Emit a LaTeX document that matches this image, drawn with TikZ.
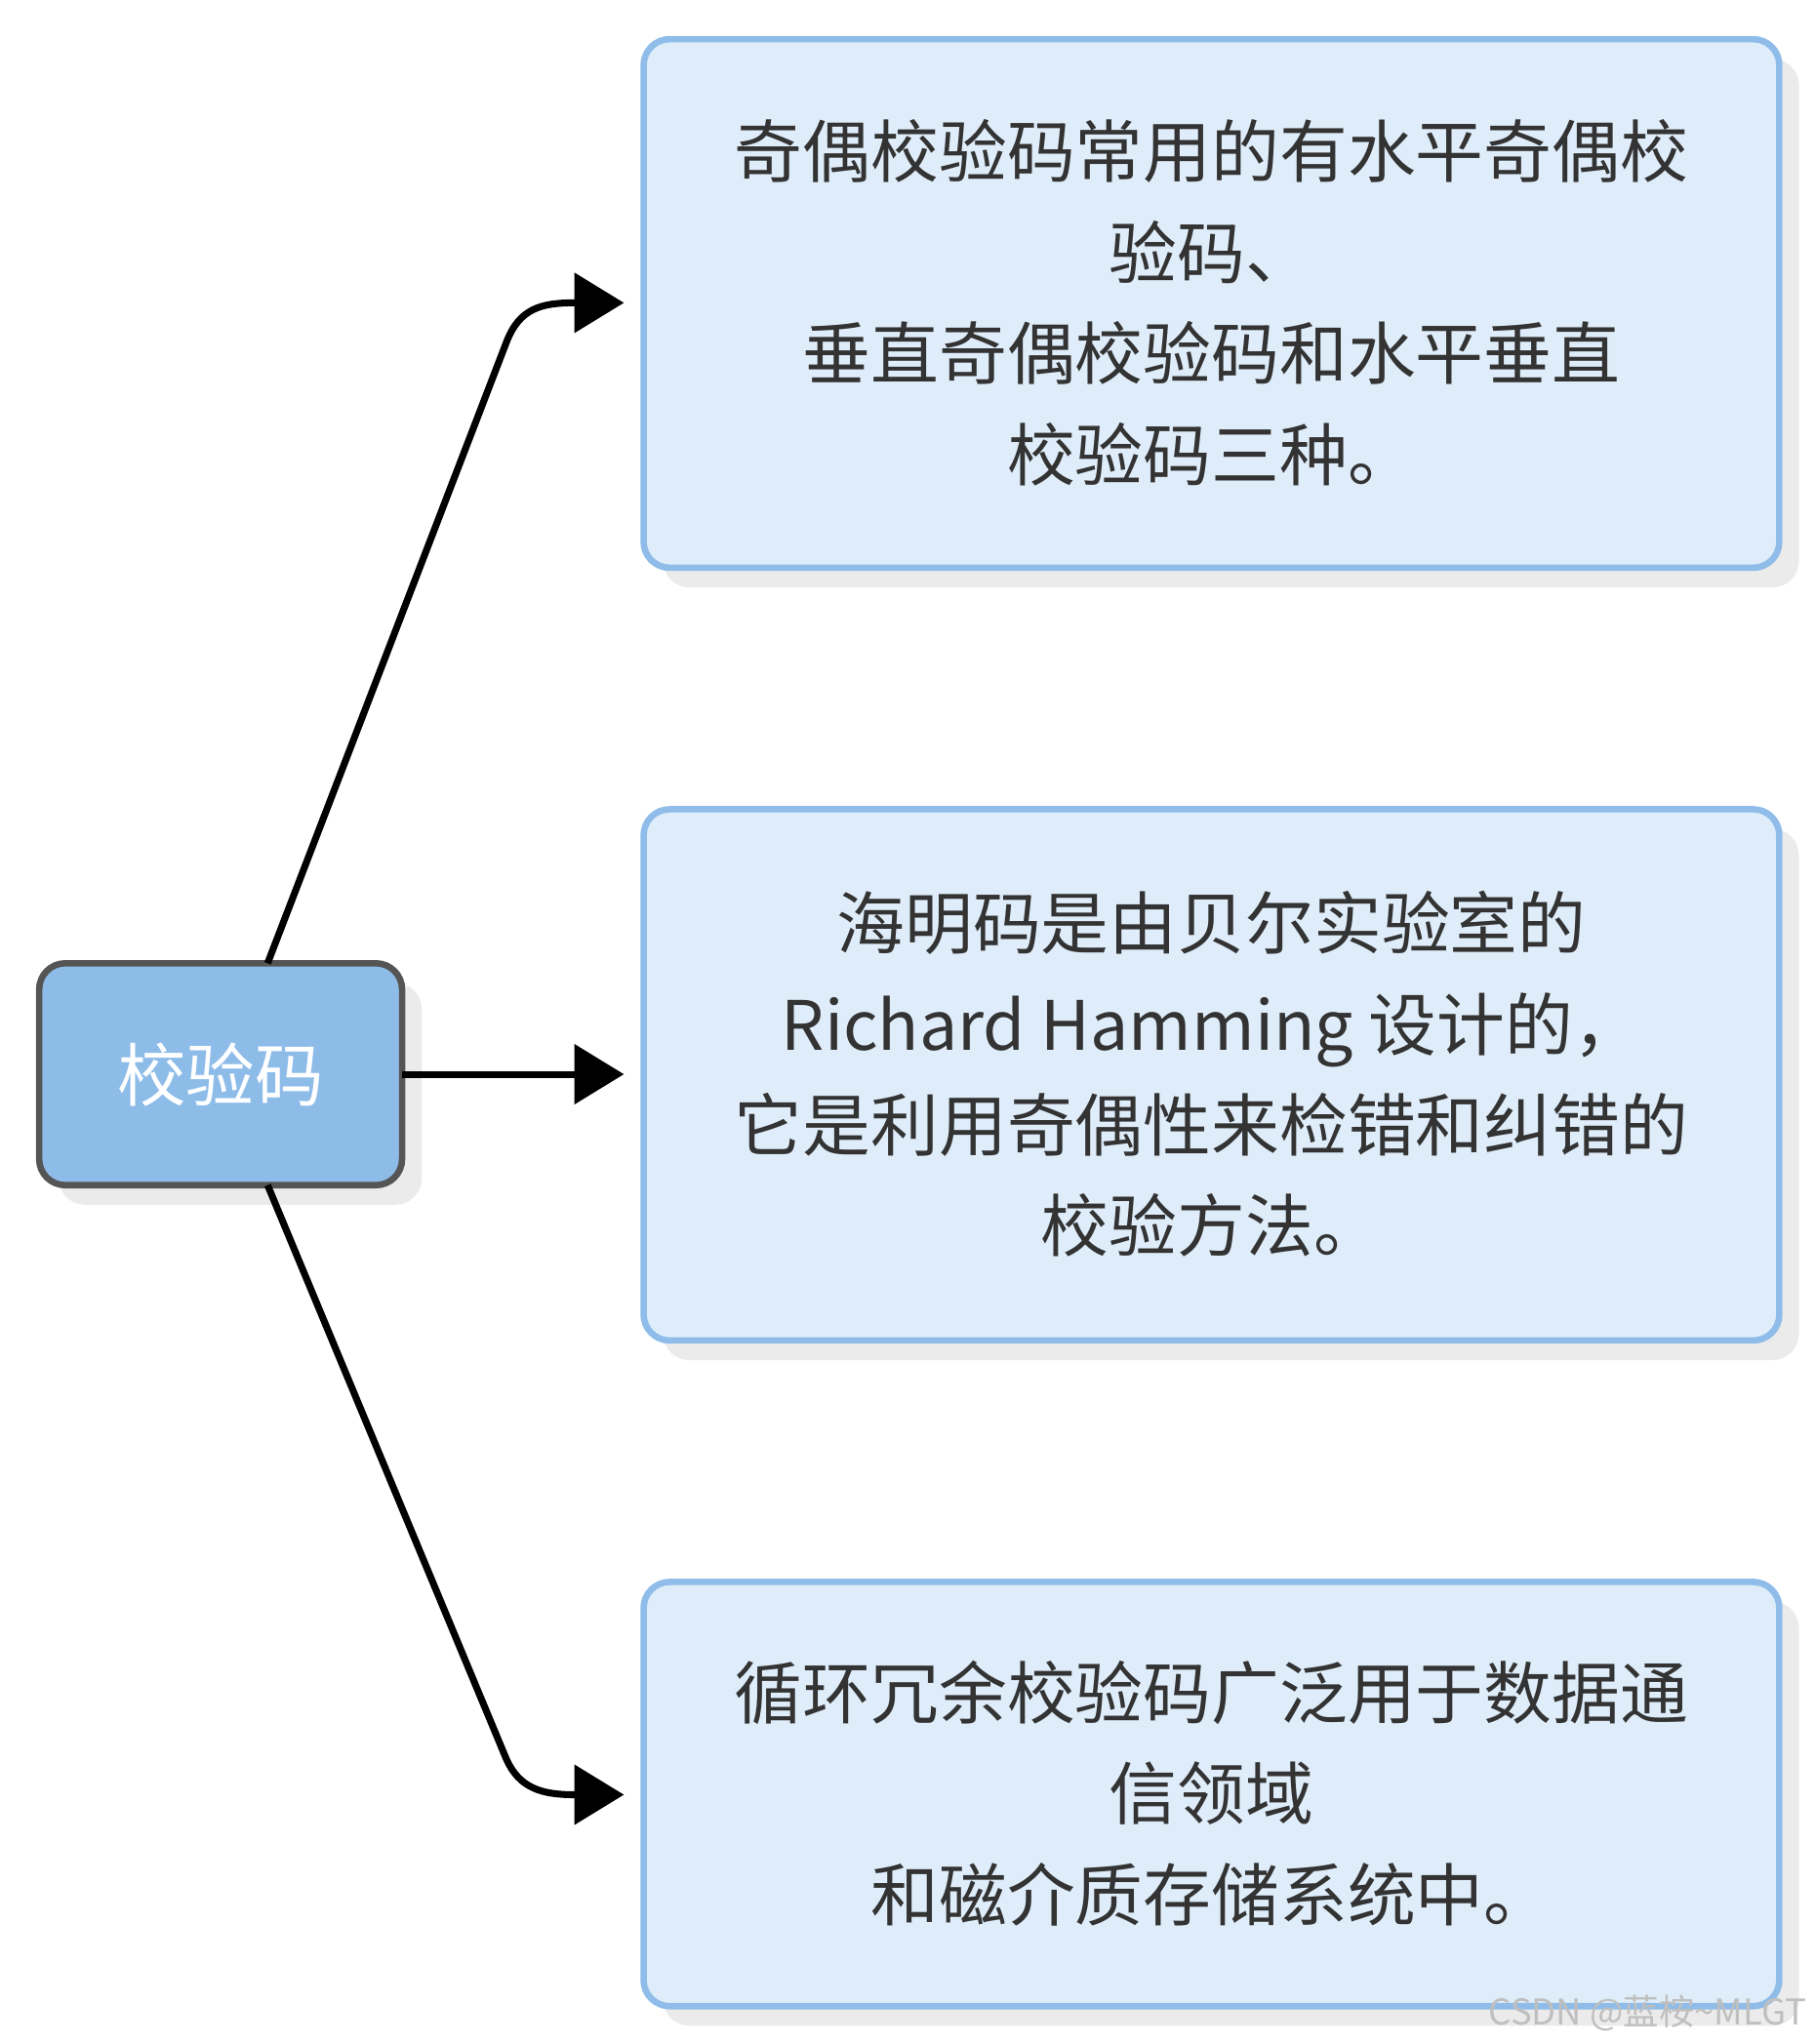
\documentclass[tikz,border=0pt]{standalone}
\usepackage{fontspec}
\setmainfont{Noto Sans CJK SC}
\usetikzlibrary{arrows.meta}
\definecolor{boxfill}{HTML}{DFEDFA}
\definecolor{boxline}{HTML}{8FBCE8}
\definecolor{rootfill}{HTML}{8EBCE9}
\definecolor{rootline}{HTML}{555555}
\definecolor{shadow}{HTML}{EBEBEB}
\begin{document}
\begin{tikzpicture}[x=0.02cm,y=-0.02cm,
  box/.style={draw=boxline,fill=boxfill,line width=2.8pt,rounded corners=0.4cm},
  shad/.style={fill=shadow,rounded corners=0.4cm},
  txt/.style={align=center,font=\fontsize{29.7}{44}\selectfont,text=black!80},
  conn/.style={line width=3pt,-{Triangle[length=0.76cm,width=0.9cm]}}]
\useasboundingbox (0,0) rectangle (1390,1566);
% shadows
\fill[shad] (508,45) rectangle (1378,450);
\fill[shad] (508,635) rectangle (1378,1042);
\fill[shad] (508,1227) rectangle (1378,1552);
\fill[shad] (45,753) rectangle (323,923);
% boxes
\draw[box] (493,30) rectangle (1363,435);
\draw[box] (493,620) rectangle (1363,1027);
\draw[box] (493,1212) rectangle (1363,1537);
\draw[line width=2.8pt,draw=rootline,fill=rootfill,rounded corners=0.4cm] (30,738) rectangle (308,908);
\node[font=\fontsize{30}{36}\selectfont,text=white] (root) at (169,823) {校验码};
\node[txt] (a) at (928,232) {奇偶校验码常用的有水平奇偶校\\验码、\\垂直奇偶校验码和水平垂直\\校验码三种。};
\node[txt] (b) at (928,823) {海明码是由贝尔实验室的\\Richard Hamming 设计的，\\它是利用奇偶性来检错和纠错的\\校验方法。};
\node[txt] (c) at (928,1374) {循环冗余校验码广泛用于数据通\\信领域\\和磁介质存储系统中。};
\coordinate (ra) at (205,738);
\coordinate (rc) at (205,908);
\coordinate (ta) at (478,232);
\coordinate (tb) at (478,823);
\coordinate (tc) at (478,1375);
\draw[conn] (ra) -- (388,262) .. controls (398,236) and (415,232) .. (440,232) -- (ta);
\draw[conn] (308,823) -- (tb);
\draw[conn] (rc) -- (388,1348) .. controls (398,1370) and (415,1375) .. (440,1375) -- (tc);
\node[anchor=south east,text=black!25,font=\fontsize{15.5}{18}\selectfont] (wm) at (1390,1562) {CSDN @蓝桉\textasciitilde MLGT};
\end{tikzpicture}
\end{document}
